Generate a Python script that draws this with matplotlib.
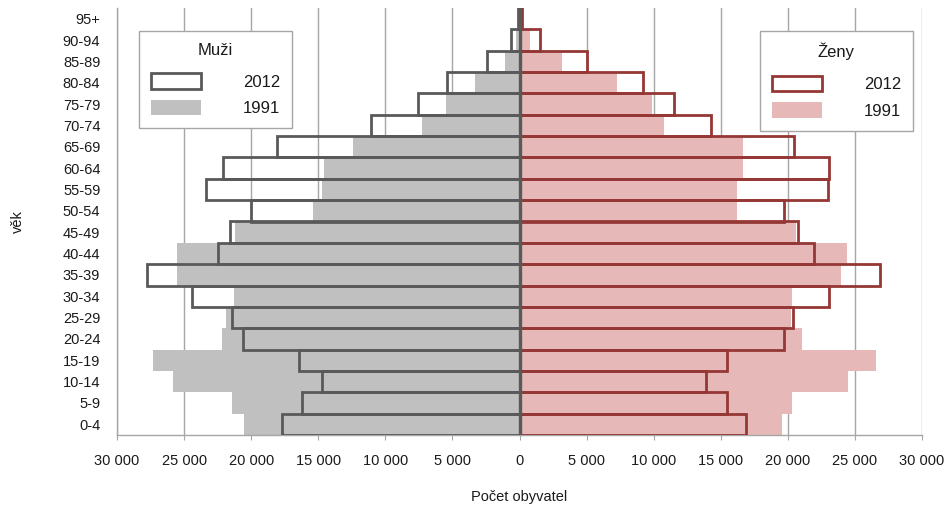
import matplotlib
matplotlib.use('Agg')
import matplotlib.pyplot as plt
from matplotlib.patches import Patch
from matplotlib.ticker import FuncFormatter, MultipleLocator

plt.rcParams['font.family'] = ['Liberation Sans', 'DejaVu Sans']

ages = ['0-4', '5-9', '10-14', '15-19', '20-24', '25-29', '30-34', '35-39',
        '40-44', '45-49', '50-54', '55-59', '60-64', '65-69', '70-74',
        '75-79', '80-84', '85-89', '90-94', '95+']

men_2012 = [17700, 16200, 14700, 16400, 20600, 21400, 24400, 27750, 22500, 21600,
            20000, 23350, 22100, 18050, 11100, 7600, 5400, 2400, 600, 100]
men_1991 = [20500, 21400, 25800, 27300, 22150, 21900, 21300, 25500, 25500, 21200,
            15400, 14700, 14600, 12400, 7250, 5450, 3350, 1100, 250, 40]
women_2012 = [16900, 15500, 13900, 15450, 19700, 20400, 23050, 26900, 21950, 20750,
              19700, 23000, 23050, 20450, 14250, 11500, 9200, 5050, 1550, 150]
women_1991 = [19600, 20300, 24450, 26600, 21050, 20200, 20300, 23950, 24400, 20600,
              16200, 16200, 16650, 16650, 10750, 9850, 7300, 3150, 750, 60]

men_line = '#595959'
men_fill = '#c0c0c0'
women_line = '#953735'
women_fill = '#e6b9b8'
grid_col = '#a6a6a6'
text_col = '#1a1a1a'

fig = plt.figure(figsize=(9.47, 5.12), dpi=100)
ax = fig.add_axes([117 / 947, 1 - 435 / 512, 805 / 947, 427 / 512])

y = list(range(len(ages)))
ax.barh(y, [-v for v in men_1991], height=1.0, color=men_fill, zorder=2)
ax.barh(y, women_1991, height=1.0, color=women_fill, zorder=2)
ax.barh(y, [-v for v in men_2012], height=1.0, facecolor='none',
        edgecolor=men_line, linewidth=2.0, zorder=3)
ax.barh(y, women_2012, height=1.0, facecolor='none',
        edgecolor=women_line, linewidth=2.0, zorder=3)
ax.axvline(0, color=men_line, linewidth=2.4, zorder=4)

ax.set_xlim(-30000, 30000)
ax.set_ylim(-0.5, len(ages) - 0.5)
ax.set_yticks(y)
ax.set_yticklabels(ages, fontsize=10.5, color=text_col)
ax.tick_params(axis='y', length=0, pad=12)
ax.xaxis.set_major_locator(MultipleLocator(5000))
ax.xaxis.set_major_formatter(FuncFormatter(lambda v, p: f"{abs(int(round(v))):,}".replace(',', ' ')))
ax.tick_params(axis='x', direction='out', length=3.6, color=grid_col, labelsize=10.5,
               labelcolor=text_col, pad=10)

ax.set_axisbelow(True)
ax.grid(axis='x', color=grid_col, linewidth=1.0, zorder=0)
ax.grid(axis='y', visible=False)
for side in ['top', 'right']:
    ax.spines[side].set_visible(False)
for side in ['left', 'bottom']:
    ax.spines[side].set_color(grid_col)
    ax.spines[side].set_linewidth(1.0)

ax.set_xlabel('Počet obyvatel', fontsize=10.5, color=text_col, labelpad=16)
ax.set_ylabel('věk', fontsize=10.5, color=text_col, labelpad=27)

def make_legend(title, line, fill, x0):
    handles = [Patch(facecolor='white', edgecolor=line, linewidth=2.0, label='2012'),
               Patch(facecolor=fill, edgecolor='none', label='1991')]
    leg = ax.legend(handles=handles, title=title, loc='upper left',
                    bbox_to_anchor=(x0 / 947, 1 - 31 / 512), bbox_transform=fig.transFigure,
                    borderaxespad=0, fontsize=12, title_fontsize=12,
                    handlelength=3.0, handleheight=1.05, handletextpad=2.5,
                    labelspacing=0.6, borderpad=0.72, frameon=True, fancybox=False,
                    framealpha=1)
    leg._legend_box.sep = 11
    leg.get_frame().set_edgecolor(grid_col)
    leg.get_frame().set_linewidth(1.0)
    leg.get_title().set_color(text_col)
    for t in leg.get_texts():
        t.set_color(text_col)
    leg.set_zorder(10)
    return leg

leg1 = make_legend('Muži', men_line, men_fill, 139)
ax.add_artist(leg1)
make_legend('Ženy', women_line, women_fill, 760)

fig.savefig('out.png', dpi=100)
